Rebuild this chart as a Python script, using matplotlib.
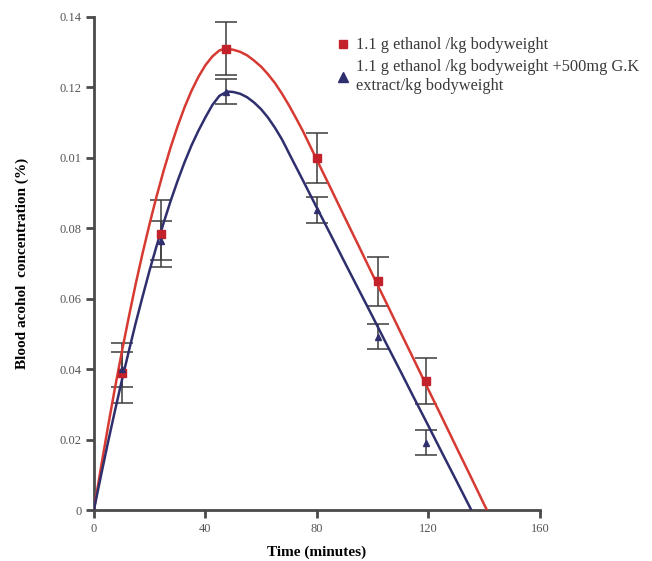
import matplotlib
matplotlib.use("Agg")
import matplotlib.pyplot as plt
from matplotlib.lines import Line2D

plt.rcParams['font.family'] = ['Liberation Serif', 'DejaVu Serif']

# measured points (time in minutes)
t_pts = [10, 24, 47.5, 80, 102, 119]
red_pts = [0.039, 0.0785, 0.131, 0.100, 0.0649, 0.0367]
red_err = [0.0085, 0.0095, 0.0075, 0.007, 0.007, 0.0066]
blue_pts = [0.040, 0.0765, 0.1188, 0.0852, 0.0492, 0.0191]
blue_err = [0.005, 0.0055, 0.0035, 0.0038, 0.0036, 0.0036]

# fitted curves
red_t = [0, 2.5, 5, 7.5, 10, 12.5, 15, 17.5, 20, 22.5, 25, 27.5, 30, 32.5, 35,
         37.5, 40, 42.5, 45, 47, 50, 52.5, 55, 57.5, 60, 62.5, 65, 67.5, 70,
         72.5, 75, 80, 85, 90, 95, 100, 105, 110, 115, 120, 125, 130, 135, 140, 141]
red_c = [0, 0.0119, 0.0234, 0.0344, 0.0448, 0.0547, 0.0642, 0.0730, 0.0813,
         0.0891, 0.0963, 0.1029, 0.1089, 0.1143, 0.1190, 0.1230, 0.1263, 0.1288,
         0.1305, 0.1310, 0.1307, 0.1301, 0.1291, 0.1276, 0.1259, 0.1237, 0.1212,
         0.1182, 0.1149, 0.1113, 0.1076, 0.0994, 0.0913, 0.0831, 0.0750, 0.0668,
         0.0587, 0.0505, 0.0424, 0.0342, 0.0261, 0.0179, 0.0098, 0.0016, 0.0]

blue_t = [0, 2.5, 5, 7.5, 10, 12.5, 15, 17.5, 20, 22.5, 25, 27.5, 30, 32.5, 35,
          37.5, 40, 42.5, 45, 47.5, 48.5, 50, 52.5, 55, 57.5, 60, 62.5, 65, 67.5,
          69, 70, 75, 80, 85, 90, 95, 100, 105, 110, 115, 120, 125, 130, 135.4]
blue_c = [0, 0.0096, 0.0190, 0.0280, 0.0367, 0.0450, 0.0531, 0.0607, 0.0681,
          0.0750, 0.0815, 0.0877, 0.0934, 0.0987, 0.1035, 0.1077, 0.1115, 0.1150,
          0.1176, 0.1187, 0.1188, 0.1187, 0.1182, 0.1172, 0.1157, 0.1138, 0.1114,
          0.1085, 0.1052, 0.1029, 0.1013, 0.0936, 0.0858, 0.0781, 0.0703, 0.0626,
          0.0549, 0.0471, 0.0394, 0.0316, 0.0239, 0.0161, 0.0084, 0.0]

y_ticks = [0, 0.02, 0.04, 0.06, 0.08, 0.10, 0.12, 0.14]
y_labels = ['0', '0.02', '0.04', '0.06', '0.08', '0.01', '0.12', '0.14']
x_ticks = [0, 40, 80, 120, 160]

red = '#d63a32'
navy = '#2f2f6e'
bar_col = '#3c3c3c'

fig = plt.figure(figsize=(6.52, 5.61), dpi=100)
ax = fig.add_axes([0.144, 0.0909, 0.684, 0.8788])

ax.plot(red_t, red_c, color=red, lw=1.8, zorder=3)
ax.plot(blue_t, blue_c, color=navy, lw=1.8, zorder=3)

ax.errorbar(t_pts, red_pts, yerr=red_err, fmt='none', ecolor=bar_col,
            elinewidth=1.1, capsize=8, capthick=1.1, zorder=2)
ax.errorbar(t_pts, blue_pts, yerr=blue_err, fmt='none', ecolor=bar_col,
            elinewidth=1.1, capsize=8, capthick=1.1, zorder=2)
ax.plot(t_pts, red_pts, 's', color='#c4222a', ms=6, zorder=4)
ax.plot(t_pts, blue_pts, '^', color=navy, ms=4, zorder=4)

ax.set_xlim(0, 160)
ax.set_ylim(0, 0.14)
ax.set_xticks(x_ticks)
ax.set_yticks(y_ticks)
ax.set_yticklabels(y_labels)

for s in ['top', 'right']:
    ax.spines[s].set_visible(False)
for s in ['left', 'bottom']:
    ax.spines[s].set_linewidth(2)
    ax.spines[s].set_color('#4a4a4a')
ax.tick_params(direction='out', length=6, width=2, color='#4a4a4a',
               labelsize=9, labelcolor='#555555', pad=3)

ax.set_xlabel('Time (minutes)', fontsize=11, fontweight='bold', labelpad=8)
ax.set_ylabel('Blood acohol  concentration (%)', fontsize=11,
              fontweight='bold', labelpad=22)

handles = [Line2D([], [], ls='none', marker='s', color='#c4222a', ms=6),
           Line2D([], [], ls='none', marker='^', color=navy, ms=7)]
labels = ['1.1 g ethanol /kg bodyweight',
          '1.1 g ethanol /kg bodyweight +500mg G.K\nextract/kg bodyweight']
leg = fig.legend(handles, labels, loc='upper left', bbox_to_anchor=(0.51, 0.945),
                 frameon=False, fontsize=11.8, handlelength=0.5,
                 handletextpad=0.55, labelspacing=0.35, borderaxespad=0)
for txt in leg.get_texts():
    txt.set_color('#3a3a3a')
    txt.set_linespacing(1.2)

fig.savefig('out.png', dpi=100)
